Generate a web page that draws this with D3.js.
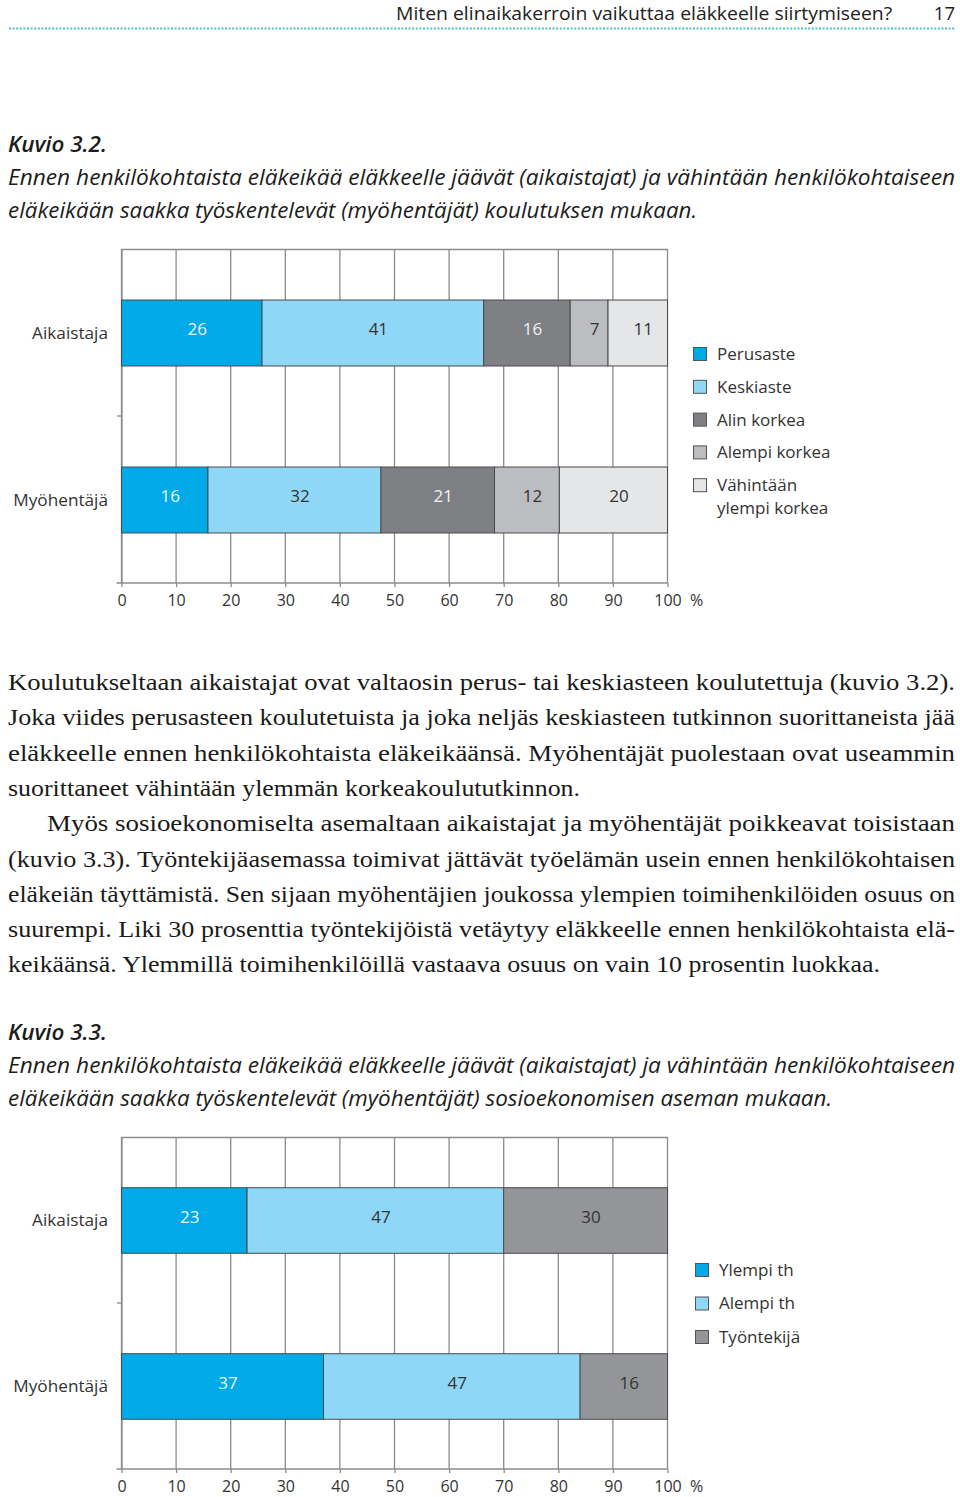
<!DOCTYPE html>
<html><head><meta charset="utf-8">
<script src="https://cdn.jsdelivr.net/npm/d3@7"></script>
<style>
html,body{margin:0;padding:0;background:#fff;}
svg{display:block;}
</style></head>
<body>
<svg id="page" width="960" height="1497"></svg>
<script>
// ---------- DATA ----------
const categories = ["Aikaistaja", "Myöhentäjä"];
const eduSeries = ["Perusaste", "Keskiaste", "Alin korkea", "Alempi korkea", "Vähintään ylempi korkea"];
const eduLegendLines = [["Perusaste"], ["Keskiaste"], ["Alin korkea"], ["Alempi korkea"], ["Vähintään", "ylempi korkea"]];
const eduAikaistaja = [26, 41, 16, 7, 11];
const eduMyohentaja = [16, 32, 21, 12, 20];
const sesSeries = ["Ylempi th", "Alempi th", "Työntekijä"];
const sesAikaistaja = [23, 47, 30];
const sesMyohentaja = [37, 47, 16];
const tickValues = [0, 10, 20, 30, 40, 50, 60, 70, 80, 90, 100];

const headerTitle = "Miten elinaikakerroin vaikuttaa eläkkeelle siirtymiseen?";
const pageNumber = "17";
const caption1 = ["Kuvio 3.2.",
  "Ennen henkilökohtaista eläkeikää eläkkeelle jäävät (aikaistajat) ja vähintään henkilökohtaiseen",
  "eläkeikään saakka työskentelevät (myöhentäjät) koulutuksen mukaan."];
const caption2 = ["Kuvio 3.3.",
  "Ennen henkilökohtaista eläkeikää eläkkeelle jäävät (aikaistajat) ja vähintään henkilökohtaiseen",
  "eläkeikään saakka työskentelevät (myöhentäjät) sosioekonomisen aseman mukaan."];
const bodyLines = [
  "Koulutukseltaan aikaistajat ovat valtaosin perus- tai keskiasteen koulutettuja (kuvio 3.2).",
  "Joka viides perusasteen koulutetuista ja joka neljäs keskiasteen tutkinnon suorittaneista jää",
  "eläkkeelle ennen henkilökohtaista eläkeikäänsä. Myöhentäjät puolestaan ovat useammin",
  "suorittaneet vähintään ylemmän korkeakoulututkinnon.",
  "Myös sosioekonomiselta asemaltaan aikaistajat ja myöhentäjät poikkeavat toisistaan",
  "(kuvio 3.3). Työntekijäasemassa toimivat jättävät työelämän usein ennen henkilökohtaisen",
  "eläkeiän täyttämistä. Sen sijaan myöhentäjien joukossa ylempien toimihenkilöiden osuus on",
  "suurempi. Liki 30 prosenttia työntekijöistä vetäytyy eläkkeelle ennen henkilökohtaista elä-",
  "keikäänsä. Ylemmillä toimihenkilöillä vastaava osuus on vain 10 prosentin luokkaa."
];

// ---------- STYLE ----------
const SANS = "'Open Sans', 'DejaVu Sans', sans-serif";
const SERIF = "'Liberation Serif', 'Times New Roman', serif";
const eduColors = ["#00a9e8", "#8fd7f6", "#7f8084", "#bcbdc0", "#e5e6e8"];
const eduText = ["#eaf7fd", "#333", "#f2f2f2", "#333", "#333"];
const sesColors = ["#00a9e8", "#8fd7f6", "#939598"];
const sesText = ["#eaf7fd", "#333", "#333"];

const svg = d3.select("#page");

// ---------- HEADER ----------
svg.append("text").attr("x", 396).attr("y", 20).attr("font-family", SANS).attr("font-size", 18.5)
  .attr("fill", "#222").attr("textLength", 496).attr("lengthAdjust", "spacingAndGlyphs").text(headerTitle);
svg.append("text").attr("x", 955).attr("y", 20).attr("text-anchor", "end").attr("font-family", SANS)
  .attr("font-size", 18.5).attr("fill", "#222").text(pageNumber);
svg.append("line").attr("x1", 9).attr("x2", 955).attr("y1", 28.5).attr("y2", 28.5)
  .attr("stroke", "#4fb9c6").attr("stroke-width", 2.2).attr("stroke-dasharray", "2,1.6");

// ---------- TEXT helpers ----------
function textLine(x, y, str, opts) {
  const t = svg.append("text").attr("x", x).attr("y", y)
    .attr("font-family", opts.family).attr("font-size", opts.size)
    .attr("fill", opts.fill || "#1a1a1a").text(str);
  if (opts.italic) t.attr("font-style", "italic");
  if (opts.weight) t.attr("font-weight", opts.weight);
  if (opts.width) t.attr("textLength", opts.width).attr("lengthAdjust", opts.adjust || "spacing");
  return t;
}

function caption(lines, y0, widths) {
  lines.forEach((l, i) => {
    textLine(8, y0 + i * 33, l, {family: SANS, size: 21, italic: true, weight: i === 0 ? 600 : 400,
      fill: "#1c1c1c", width: widths[i], adjust: "spacingAndGlyphs"});
  });
}
caption(caption1, 152, [99, 947, 689]);
caption(caption2, 1040, [99, 947, 824]);

// body
const bodyWidths = [947, 947, 947, 572, 908, 947, 947, 947, 872];
const bodyX = [8, 8, 8, 8, 47, 8, 8, 8, 8];
bodyLines.forEach((l, i) => {
  textLine(bodyX[i], 690 + i * 35.3, l, {family: SERIF, size: 24, fill: "#1a1a1a",
    width: bodyWidths[i], adjust: "spacingAndGlyphs"});
});

// ---------- CHART ----------
function drawChart(cfg) {
  const g = svg.append("g");
  const x = d3.scaleLinear().domain([0, 100]).range([121, 667]);
  const y = d3.scaleBand().domain(categories).range([cfg.top, cfg.bottom])
    .paddingInner(0.605).paddingOuter(0.3025);

  // grid
  g.append("g").selectAll("line").data(tickValues).join("line")
    .attr("x1", d => x(d) + 0.5).attr("x2", d => x(d) + 0.5)
    .attr("y1", cfg.top).attr("y2", cfg.bottom)
    .attr("stroke", "#8c8c8c").attr("stroke-width", 1.3);
  g.append("line").attr("x1", x(0)).attr("x2", x(100) + 1).attr("y1", cfg.top + 0.5).attr("y2", cfg.top + 0.5)
    .attr("stroke", "#8c8c8c").attr("stroke-width", 1.3);

  // left axis
  const yAxis = d3.axisLeft(y).tickSize(0).tickFormat("");
  g.append("g").attr("transform", `translate(${x(0) + 0.5},0)`).call(yAxis)
    .call(a => a.select(".domain").attr("stroke", "#8c8c8c").attr("stroke-width", 1.3));
  // middle separator tick
  const mid = (y(categories[0]) + y.bandwidth() + y(categories[1])) / 2;
  g.append("line").attr("x1", x(0) - 4).attr("x2", x(0)).attr("y1", mid).attr("y2", mid)
    .attr("stroke", "#8c8c8c").attr("stroke-width", 1.3);

  // bottom axis
  const xAxis = d3.axisBottom(x).tickValues(tickValues).tickSize(4).tickSizeOuter(0).tickPadding(8)
    .tickFormat(d => d);
  const ax = g.append("g").attr("transform", `translate(0.5,${cfg.bottom})`).call(xAxis);
  ax.select(".domain").attr("stroke", "#8c8c8c").attr("stroke-width", 1.3).attr("d", `M${x(0) - 5},0H${x(100)}`);
  ax.selectAll(".tick line").attr("stroke", "#8c8c8c").attr("stroke-width", 1.3);
  ax.selectAll(".tick text").attr("font-family", SANS).attr("font-size", 16).attr("fill", "#333");
  g.append("text").attr("x", x(100) + 23).attr("y", cfg.bottom + 12).attr("dy", "0.71em")
    .attr("font-family", SANS).attr("font-size", 16).attr("fill", "#333").text("%");

  // category labels
  categories.forEach(c => {
    g.append("text").attr("x", 108).attr("y", y(c) + y.bandwidth() / 2).attr("dy", "0.35em")
      .attr("text-anchor", "end").attr("font-family", SANS).attr("font-size", 17.2).attr("fill", "#333").text(c);
  });

  // bars (normalised stacks of rounded percentages)
  cfg.rows.forEach((vals, ri) => {
    const total = d3.sum(vals);
    const cum = d3.cumsum(vals);
    const cat = categories[ri];
    vals.forEach((v, i) => {
      const x0 = x(((cum[i] - v) / total) * 100);
      const x1 = x((cum[i] / total) * 100);
      g.append("rect").attr("x", x0 + 0.5).attr("y", y(cat) + 0.5)
        .attr("width", x1 - x0).attr("height", y.bandwidth())
        .attr("fill", cfg.colors[i]).attr("stroke", "#4a4a4a").attr("stroke-width", 1);
      g.append("text").attr("x", (x0 + x1) / 2 + 6).attr("y", y(cat) + y.bandwidth() / 2 - 3).attr("dy", "0.35em")
        .attr("text-anchor", "middle").attr("font-family", SANS).attr("font-size", 17)
        .attr("fill", cfg.textColors[i]).text(v);
    });
  });

  // legend
  cfg.legend.forEach((lines, i) => {
    const ly = cfg.legendY + i * cfg.legendStep;
    g.append("rect").attr("x", cfg.legendX + 0.5).attr("y", ly - 6.5).attr("width", 13).attr("height", 13)
      .attr("fill", cfg.colors[i]).attr("stroke", "#555").attr("stroke-width", 1);
    lines.forEach((ln, k) => {
      g.append("text").attr("x", cfg.legendX + 24).attr("y", ly + k * 23).attr("dy", "0.35em")
        .attr("font-family", SANS).attr("font-size", 17).attr("fill", "#333").text(ln);
    });
  });
}

drawChart({top: 249, bottom: 583, rows: [eduAikaistaja, eduMyohentaja], colors: eduColors,
  textColors: eduText, legend: eduLegendLines, legendX: 693, legendY: 354, legendStep: 32.8});
drawChart({top: 1137, bottom: 1469, rows: [sesAikaistaja, sesMyohentaja], colors: sesColors,
  textColors: sesText, legend: sesSeries.map(s => [s]), legendX: 695, legendY: 1270, legendStep: 33.5});
</script>
</body></html>
